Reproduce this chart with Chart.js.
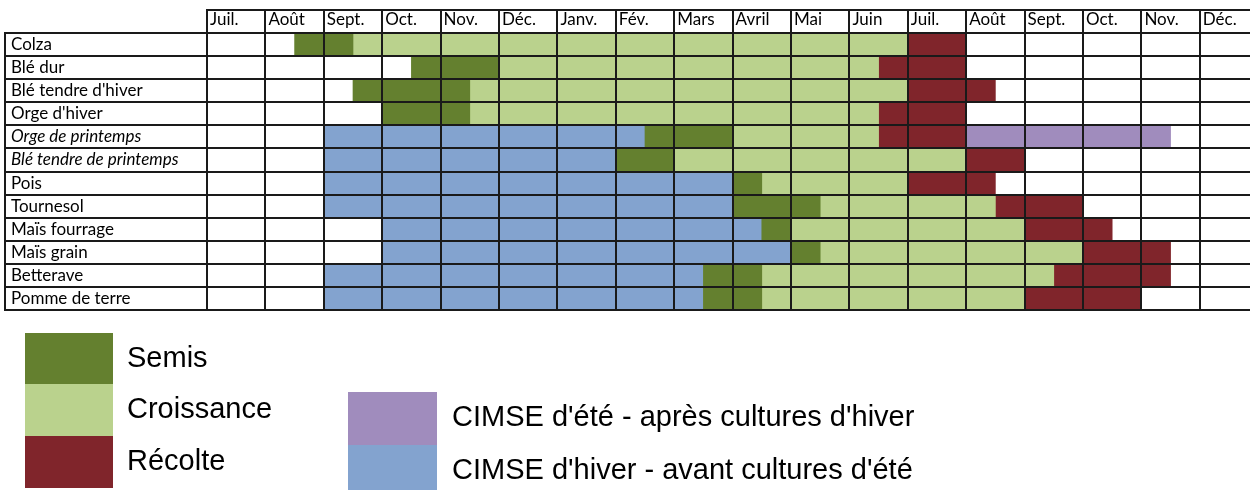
<!DOCTYPE html>
<html lang="fr">
<head>
    <meta charset="UTF-8">
    <title>Calendrier des cultures</title>
    <script src="https://cdn.jsdelivr.net/npm/chart.js"></script>
    <style>
        body { margin: 0; background: #fff; }
        #wrap { width: 1250px; height: 490px; }
    </style>
</head>
<body>
    <div id="wrap"><canvas id="calendar" width="1250" height="490"></canvas></div>

    <script>
        // months shown on the top row (july -> december of the following year)
        const months = ['Juil.', 'Août', 'Sept.', 'Oct.', 'Nov.', 'Déc.', 'Janv.', 'Fév.', 'Mars',
                        'Avril', 'Mai', 'Juin', 'Juil.', 'Août', 'Sept.', 'Oct.', 'Nov.', 'Déc.'];

        const crops = ['Colza', 'Blé dur', "Blé tendre d'hiver", "Orge d'hiver", 'Orge de printemps',
                       'Blé tendre de printemps', 'Pois', 'Tournesol', 'Maïs fourrage', 'Maïs grain',
                       'Betterave', 'Pomme de terre'];

        // [start, end] in months counted from the start of the first July
        const semis = [[1.5, 2.5], [3.5, 5], [2.5, 4.5], [3, 4.5], [7.5, 9], [7, 8],
                       [9, 9.5], [9, 10.5], [9.5, 10], [10, 10.5], [8.5, 9.5], [8.5, 9.5]];
        const croissance = [[2.5, 12], [5, 11.5], [4.5, 12], [4.5, 11.5], [9, 11.5], [8, 13],
                            [9.5, 12], [10.5, 13.5], [10, 14], [10.5, 15], [9.5, 14.5], [9.5, 14]];
        const recolte = [[12, 13], [11.5, 13], [12, 13.5], [11.5, 13], [11.5, 13], [13, 14],
                         [12, 13.5], [13.5, 15], [14, 15.5], [15, 16.5], [14.5, 16.5], [14, 16]];
        const cimseEte = [null, null, null, null, [13, 16.5], null,
                          null, null, null, null, null, null];
        const cimseHiver = [null, null, null, null, [2, 7.5], [2, 7],
                            [2, 9], [2, 9], [3, 9.5], [3, 10], [2, 8.5], [2, 8.5]];

        const italicCrops = ['Orge de printemps', 'Blé tendre de printemps'];
        const tableFont = 'Lato, "Open Sans", sans-serif';
        const lineColor = '#1a1a1a';

        const ctx = document.getElementById('calendar').getContext('2d');

        // draws the outer lines of the table and the big legend underneath
        const framePlugin = {
            id: 'frame',
            afterDraw(chart) {
                const c = chart.ctx;
                const area = chart.chartArea;
                const xs = chart.scales.x;
                c.save();
                c.strokeStyle = lineColor;
                c.lineWidth = 2;
                c.beginPath();
                c.moveTo(area.left - 1, xs.top);
                c.lineTo(chart.width, xs.top);
                c.moveTo(5, area.top - 1);
                c.lineTo(5, area.bottom + 1);
                c.stroke();

                // legend
                const ds = chart.data.datasets;
                const left = [
                    { d: ds[0], y: 333 },
                    { d: ds[1], y: 384 },
                    { d: ds[2], y: 436 }
                ];
                const right = [
                    { d: ds[3], y: 392 },
                    { d: ds[4], y: 445 }
                ];
                c.font = '29px "Liberation Sans", Arial, sans-serif';
                c.textBaseline = 'middle';
                left.forEach(item => {
                    c.fillStyle = item.d.backgroundColor;
                    c.fillRect(25, item.y, 88, 52);
                    c.fillStyle = '#000';
                    c.fillText(item.d.label, 127, item.y + 26);
                });
                right.forEach(item => {
                    c.fillStyle = item.d.backgroundColor;
                    c.fillRect(348, item.y, 89, 53);
                    c.fillStyle = '#000';
                    c.fillText(item.d.label, 452, item.y + 26);
                });
                c.restore();
            }
        };

        const calendarChart = new Chart(ctx, {
            type: 'bar',
            data: {
                labels: crops,
                datasets: [
                    { label: 'Semis', data: semis, backgroundColor: '#64802f' },
                    { label: 'Croissance', data: croissance, backgroundColor: '#bad28d' },
                    { label: 'Récolte', data: recolte, backgroundColor: '#80252b' },
                    { label: "CIMSE d'été - après cultures d'hiver", data: cimseEte, backgroundColor: '#a08cbd' },
                    { label: "CIMSE d'hiver - avant cultures d'été", data: cimseHiver, backgroundColor: '#83a3cf' }
                ]
            },
            options: {
                indexAxis: 'y',
                responsive: false,
                animation: false,
                grouped: false,
                categoryPercentage: 1,
                barPercentage: 1,
                borderWidth: 0,
                layout: { padding: { left: 11, top: 10, right: 0, bottom: 180 } },
                plugins: {
                    legend: { display: false },
                    tooltip: { enabled: false }
                },
                scales: {
                    x: {
                        type: 'linear',
                        position: 'top',
                        min: 0,
                        max: 17.86,
                        afterBuildTicks: scale => {
                            scale.ticks = months.map((m, i) => ({ value: i }));
                        },
                        afterFit: scale => { scale.height = 23; },
                        grid: { z: 1, color: lineColor, lineWidth: 2, tickLength: 23, tickColor: lineColor },
                        border: { z: 1, color: lineColor, width: 2 },
                        ticks: {
                            z: 1,
                            callback: v => months[v],
                            align: 'start',
                            labelOffset: 3,
                            padding: -20,
                            maxRotation: 0,
                            autoSkip: false,
                            color: '#000',
                            font: { family: tableFont, size: 17 }
                        }
                    },
                    y: {
                        afterFit: scale => { scale.width = 196; },
                        grid: { z: 1, color: lineColor, lineWidth: 2, tickLength: 202, tickColor: lineColor, offset: true },
                        border: { z: 1, color: lineColor, width: 2 },
                        ticks: {
                            z: 1,
                            crossAlign: 'far',
                            color: '#000',
                            autoSkip: false,
                            font: c => ({
                                family: tableFont,
                                size: 17,
                                style: italicCrops.includes(crops[c.index]) ? 'italic' : 'normal'
                            })
                        }
                    }
                }
            },
            plugins: [framePlugin]
        });
    </script>
</body>
</html>
